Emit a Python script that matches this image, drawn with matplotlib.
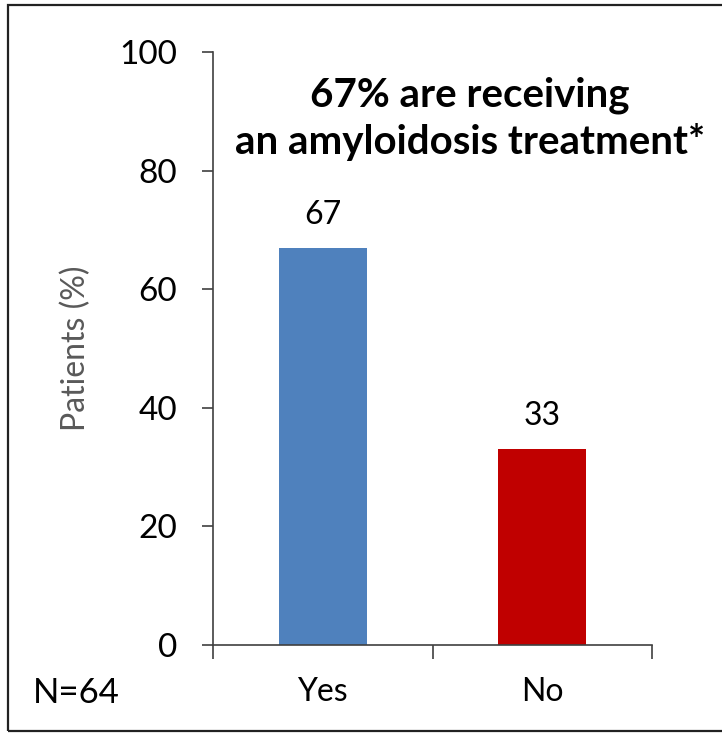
import matplotlib
matplotlib.use("Agg")
import matplotlib.pyplot as plt
from matplotlib.patches import Rectangle

# Data
categories = ["Yes", "No"]
patients_pct = [67, 33]
bar_colors = ["#4F81BD", "#C00000"]
value_labels = ["67", "33"]
y_ticks = [0, 20, 40, 60, 80, 100]

plt.rcParams["font.family"] = ["Lato", "DejaVu Sans"]

W, H = 722, 733
fig = plt.figure(figsize=(W / 100, H / 100), dpi=100)

# Axes placed in pixel coordinates of the reference
left, right, top, bottom = 213, 652, 52, 645
ax = fig.add_axes([left / W, 1 - bottom / H, (right - left) / W, (bottom - top) / H])

x = list(range(len(categories)))
ax.bar(x, patients_pct, width=0.4, color=bar_colors, zorder=2)

for xi, val, lab in zip(x, patients_pct, value_labels):
    ax.annotate(lab, (xi, val), xytext=(0, 13), textcoords="offset points",
                ha="center", va="bottom", fontsize=23)

ax.set_xlim(-0.5, len(categories) - 0.5)
ax.set_ylim(0, 100)
ax.set_yticks(y_ticks)
ax.set_yticklabels([str(t) for t in y_ticks], fontsize=24)
ax.tick_params(axis="y", direction="out", length=8, width=1.2, pad=18, color="#404040")

# category labels sit between the boundary tick marks
ax.set_xticks([i - 0.5 for i in range(len(categories) + 1)])
ax.set_xticklabels([])
ax.tick_params(axis="x", direction="out", length=10, width=1.2, color="#404040")
for xi, cat in zip(x, categories):
    ax.text(xi, -0.08, cat, transform=ax.get_xaxis_transform(),
            ha="center", va="center", fontsize=23)

for side in ["top", "right"]:
    ax.spines[side].set_visible(False)
for side in ["left", "bottom"]:
    ax.spines[side].set_color("#404040")
    ax.spines[side].set_linewidth(1.2)

ax.set_ylabel("Patients (%)", fontsize=23, color="#595959", labelpad=20)

fig.text(470 / W, 1 - 119 / H, "67% are receiving\nan amyloidosis treatment*",
         ha="center", va="center", fontsize=29, fontweight="bold", linespacing=1.3)
fig.text(33 / W, 1 - 693 / H, "N=64", ha="left", va="center", fontsize=25)

# outer frame (runs off the right edge in the reference)
fig.patches.append(Rectangle((8 / W, 1 - 731 / H), 1.0, (731 - 5) / H,
                             transform=fig.transFigure, fill=False,
                             edgecolor="#222222", linewidth=1.6))

fig.savefig("out.png", dpi=100)
